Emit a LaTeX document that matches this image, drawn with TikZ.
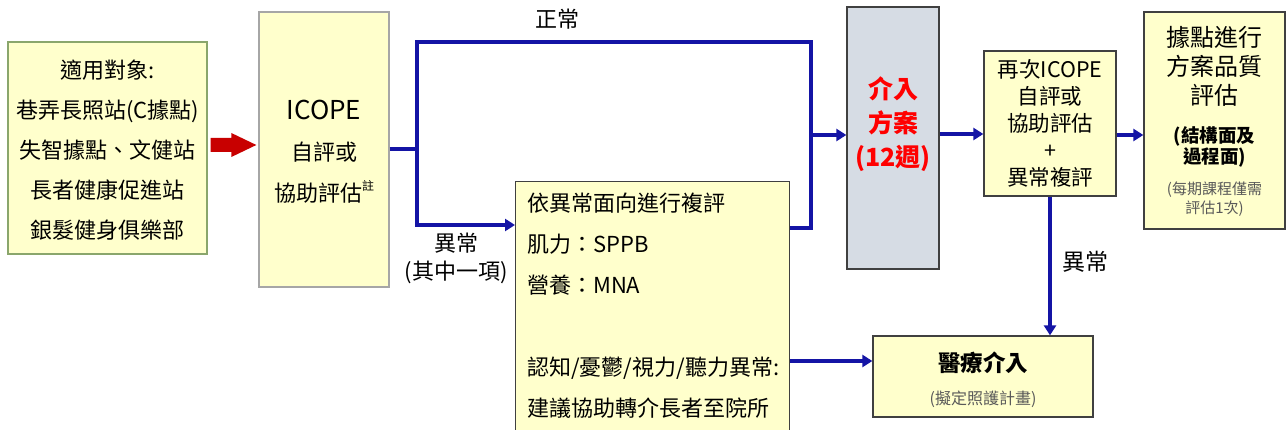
\documentclass[tikz,border=0pt]{standalone}
\usepackage{fontspec}
\setmainfont{Noto Sans CJK TC}
\usetikzlibrary{arrows.meta,calc}
\definecolor{boxfill}{HTML}{FFFFCC}
\definecolor{grayfill}{HTML}{D6DCE4}
\definecolor{agreen}{HTML}{8AA66C}
\definecolor{bgray}{HTML}{A6A6A6}
\definecolor{dborder}{HTML}{404040}
\definecolor{flowblue}{RGB}{20,20,165}
\definecolor{fatred}{RGB}{200,0,0}
\definecolor{txtred}{RGB}{255,0,0}
\definecolor{smallgray}{HTML}{595959}
\begin{document}
\begin{tikzpicture}[x=1pt,y=-1pt,
  ybox/.style={draw=dborder, line width=1.3pt, fill=boxfill, inner sep=0pt, align=center, text=black},
  flow/.style={draw=flowblue, line width=3.5pt, line join=miter},
  flowarrow/.style={flow, -{Triangle[length=10pt,width=12pt]}},
  lab/.style={font=\fontsize{22}{28}\selectfont, align=center, inner sep=0pt}
]
\useasboundingbox (0,0) rectangle (1287,430);
\fill[white] (0,0) rectangle (1287,430);

% boxes
\node[ybox, draw=agreen, minimum width=199pt, minimum height=212pt] (a) at (107.5,148) {};
\node[lab, font=\fontsize{22}{40}\selectfont] (atext) at (107.5,150)
  {適用對象:\\巷弄長照站(C據點)\\失智據點、文健站\\長者健康促進站\\銀髮健身俱樂部};

\node[ybox, draw=bgray, minimum width=130pt, minimum height=275pt] (b) at (324,149.5) {};
\node[lab, font=\fontsize{22}{41}\selectfont] (btext) at (324,152)
  {{\fontsize{26}{30}\selectfont ICOPE}\\自評或\\協助評估\raisebox{0.5em}{\fontsize{12}{12}\selectfont 註}};

\node[ybox, draw=dborder, fill=grayfill, minimum width=92pt, minimum height=262pt] (c) at (893,138) {};
\node[lab, font=\fontsize{25}{34}\selectfont\bfseries, text=txtred] (ctext) at (893,124) {介入\\方案\\(12週)};

\node[ybox, draw=dborder, minimum width=274pt, minimum height=260pt, anchor=north west] (d) at (515,181) {};
\node[anchor=north west, inner sep=0pt, align=left, font=\fontsize{22}{41}\selectfont] (dtext) at (527,193)
  {依異常面向進行複評\\肌力：SPPB\\營養：MNA\\\mbox{}\\認知/憂鬱/視力/聽力異常:\\建議協助轉介長者至院所};

\node[ybox, draw=dborder, minimum width=132pt, minimum height=145pt,
  font=\fontsize{21.5}{27}\selectfont] (e) at (1050,123.5)
  {再次ICOPE\\自評或\\協助評估\\+\\異常複評};

\node[ybox, draw=dborder, minimum width=141pt, minimum height=217pt] (f) at (1214.5,120.5) {};
\node[lab, font=\fontsize{24}{29}\selectfont] (ft1) at (1214.5,66) {據點進行\\方案品質\\評估};
\node[lab, font=\fontsize{18.5}{20.5}\selectfont\bfseries] (ft2) at (1214.5,147) {(結構面及\\過程面)};
\node[lab, font=\fontsize{15}{18.5}\selectfont, text=smallgray] (ft3) at (1214.5,199) {(每期課程僅需\\評估1次)};

\node[ybox, draw=dborder, minimum width=220pt, minimum height=81pt] (m) at (983,376.5) {};
\node[lab, font=\fontsize{22.5}{26}\selectfont\bfseries] (mt1) at (983,363) {醫療介入};
\node[lab, font=\fontsize{16}{18}\selectfont, text=smallgray] (mt2) at (983,399) {(擬定照護計畫)};

% red fat arrow
\coordinate (rs) at ($(a.east)+(3,-3)$);
\coordinate (rt) at ($(b.west |- rs)+(-2,0)$);
\fill[fatred] ($(rs)+(0,-7)$) -- ($(rt)+(-25,-7)$) -- ($(rt)+(-25,-12)$) -- (rt)
  -- ($(rt)+(-25,12)$) -- ($(rt)+(-25,7)$) -- ($(rs)+(0,7)$) -- cycle;

% blue connectors
\coordinate (j1) at (417,149);
\coordinate (top1) at (417,42);
\coordinate (top2) at (811,42);
\coordinate (yD) at (0,225);
\coordinate (yC) at (0,135);
\coordinate (yDout) at (0,228);
\coordinate (yM) at (0,361);
\coordinate (yE) at (0,134);

\draw[flow] (b.east |- j1) -- (j1) -- (top1) -- (top2) -- (top2 |- yDout) -- (d.east |- yDout);
\draw[flowarrow] (j1) |- (d.west |- yD);
\draw[flowarrow] (top2 |- yC) -- (c.west |- yC);
\draw[flowarrow] (c.east |- yE) -- (e.west |- yE);
\draw[flowarrow] (e.east |- yC) -- (f.west |- yC);
\draw[flowarrow] (e.south) -- (e.south |- m.north);
\draw[flowarrow] (d.east |- yM) -- (m.west |- yM);

% labels
\node[lab] (lnorm) at (557,19) {正常};
\node[lab] (labn1) at (456,258) {異常\\(其中一項)};
\node[lab, font=\fontsize{23}{28}\selectfont] (labn2) at (1085,262) {異常};
\end{tikzpicture}
\end{document}
